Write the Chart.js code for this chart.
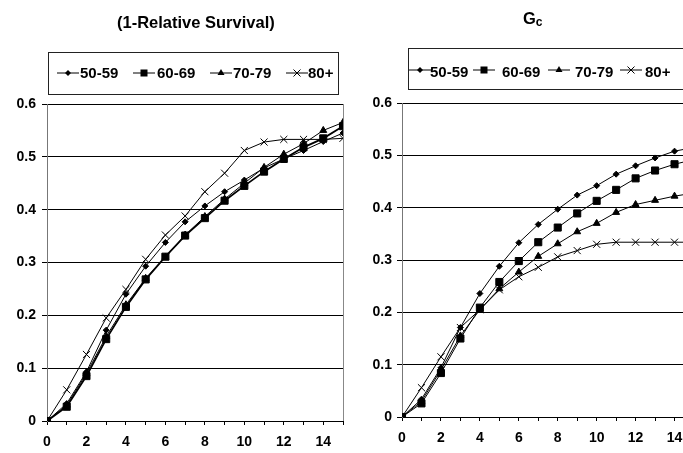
<!DOCTYPE html>
<html>
<head>
<meta charset="utf-8">
<script src="https://cdn.jsdelivr.net/npm/chart.js@4.4.0/dist/chart.umd.min.js"></script>
<style>
html,body{margin:0;padding:0;width:683px;height:453px;overflow:hidden;background:#fff;}
body{position:relative;font-family:"Liberation Sans",Arial,sans-serif;font-weight:bold;color:#000;}
canvas{position:absolute;top:0;}
.title{position:absolute;font-size:16.5px;line-height:16.5px;white-space:nowrap;}
.title sub{font-size:12px;vertical-align:-2px;line-height:0;}
.legend{position:absolute;border:1px solid #222;box-sizing:border-box;}
.lg{position:absolute;font-size:15px;line-height:15px;white-space:nowrap;}
svg.mk{position:absolute;}
</style>
</head>
<body>
<canvas id="c1" width="360" height="453" style="left:0;width:360px;height:453px"></canvas>
<canvas id="c2" width="380" height="453" style="left:345px;width:380px;height:453px"></canvas>

<div class="title" style="left:117px;top:14.3px">(1-Relative Survival)</div>
<div class="title" style="left:523px;top:10px">G<sub>c</sub></div>

<div class="legend" style="left:48px;top:52px;width:291px;height:43px"></div>
<div class="legend" style="left:408px;top:48px;width:300px;height:42px"></div>
<div id="legends"></div>

<script>
// ---- data ----
const years = [0,1,2,3,4,5,6,7,8,9,10,11,12,13,14,15];
const seriesNames = ['50-59','60-69','70-79','80+'];
const yTickLabels = ['0','0.1','0.2','0.3','0.4','0.5','0.6'];
const xTickLabels = ['0','','2','','4','','6','','8','','10','','12','','14',''];

// (1-Relative Survival)
const rs5059 = [0,0.033,0.093,0.172,0.240,0.293,0.338,0.377,0.407,0.434,0.456,0.479,0.496,0.512,0.529,0.545];
const rs6069 = [0,0.027,0.085,0.155,0.216,0.268,0.311,0.351,0.384,0.417,0.445,0.472,0.496,0.518,0.535,0.558];
const rs7079 = [0,0.030,0.090,0.160,0.220,0.270,0.310,0.352,0.387,0.420,0.450,0.480,0.505,0.525,0.550,0.565];
const rs80   = [0,0.059,0.126,0.195,0.249,0.306,0.352,0.388,0.434,0.469,0.512,0.528,0.533,0.533,0.533,0.535];

// Gc
const gc5059 = [0,0.034,0.094,0.171,0.236,0.288,0.333,0.368,0.397,0.424,0.442,0.464,0.480,0.495,0.508,0.515];
const gc6069 = [0,0.026,0.084,0.150,0.209,0.258,0.298,0.334,0.362,0.389,0.413,0.434,0.456,0.471,0.483,0.492];
const gc7079 = [0,0.030,0.090,0.155,0.205,0.245,0.277,0.307,0.331,0.354,0.370,0.391,0.406,0.414,0.422,0.428];
const gc80   = [0,0.056,0.115,0.171,0.205,0.243,0.268,0.286,0.306,0.318,0.330,0.334,0.334,0.334,0.334,0.334];

// ---- styles ----
const markers = [
  {style:'rectRot', r:3},
  {style:'rect', r:5},
  {style:'triangle', r:4},
  {style:'crossRot', r:5}
];
const tickFont = {family:'"Liberation Sans", Arial, sans-serif', size:14, weight:'bold'};

function mkDatasets(arrs, widths){
  return arrs.map((a,i)=>({
    label: seriesNames[i],
    data: years.map((x,j)=>({x:x,y:a[j]})),
    borderColor:'#000',
    borderWidth: widths[i],
    pointStyle: markers[i].style,
    pointRadius: markers[i].r,
    pointHoverRadius: markers[i].r,
    pointBackgroundColor:'#000',
    pointBorderColor:'#000',
    pointBorderWidth:1,
    tension:0,
    fill:false
  }));
}

function makeChart(id, datasets, pad, yW, xH, yPad, xPad){
  return new Chart(document.getElementById(id), {
    type:'line',
    data:{datasets},
    options:{
      responsive:false,
      animation:false,
      devicePixelRatio:1,
      layout:{padding:pad},
      plugins:{legend:{display:false}, tooltip:{enabled:false}, title:{display:false}},
      scales:{
        x:{
          type:'linear', min:0, max:15,
          afterFit:(s)=>{s.height=xH;},
          border:{color:'#000', width:1},
          grid:{
            drawOnChartArea:true,
            color:(c)=> (c.tick && c.tick.value===15) ? '#888' : 'rgba(0,0,0,0)',
            tickColor:'#000', tickLength:4, lineWidth:1
          },
          ticks:{
            stepSize:1, autoSkip:false, maxRotation:0, minRotation:0,
            padding:xPad, color:'#000', font:tickFont,
            callback:(v)=> xTickLabels[v] !== undefined ? xTickLabels[v] : ''
          }
        },
        y:{
          min:0, max:0.6,
          afterFit:(s)=>{s.width=yW;},
          border:{color:'#777', width:1},
          grid:{color:'#000', tickColor:'#000', tickLength:5, lineWidth:1},
          ticks:{
            stepSize:0.1, padding:yPad, color:'#000', font:tickFont,
            callback:(v,i)=> yTickLabels[i]
          }
        }
      }
    }
  });
}

makeChart('c1', mkDatasets([rs5059,rs6069,rs7079,rs80],[1,1.8,1,1]),
  {left:0, top:104, right:17, bottom:0}, 47, 32, 6, 9);
makeChart('c2', mkDatasets([gc5059,gc6069,gc7079,gc80],[1,1,1,1]),
  {left:0, top:103, right:31, bottom:0}, 57, 36, 5, 9);

// ---- HTML legends ----
function markerSvg(i){
  const c = 11, cy = 6;
  let m = '';
  if(i===0) m = `<polygon points="${c},${cy-3} ${c+3},${cy} ${c},${cy+3} ${c-3},${cy}" fill="#000"/>`;
  if(i===1) m = `<rect x="${c-3.5}" y="${cy-3.5}" width="7" height="7" fill="#000"/>`;
  if(i===2) m = `<polygon points="${c},${cy-4} ${c+3.5},${cy+2} ${c-3.5},${cy+2}" fill="#000"/>`;
  if(i===3) m = `<path d="M${c-3.5},${cy-3.5}L${c+3.5},${cy+3.5}M${c+3.5},${cy-3.5}L${c-3.5},${cy+3.5}" stroke="#000" stroke-width="1"/>`;
  return `<line x1="0" y1="${cy}" x2="22" y2="${cy}" stroke="#000" stroke-width="1"/>` + m;
}
const legendSpecs = [
  {lines:[57,133,210,286], texts:[80,157,233,308], lineY:67, textTop:65},
  {lines:[409,473,548,620], texts:[430,502,575,645], lineY:64, textTop:64}
];
let html = '';
legendSpecs.forEach(sp=>{
  seriesNames.forEach((n,i)=>{
    html += `<svg class="mk" width="22" height="12" style="left:${sp.lines[i]}px;top:${sp.lineY}px">${markerSvg(i)}</svg>`;
    html += `<div class="lg" style="left:${sp.texts[i]}px;top:${sp.textTop}px">${n}</div>`;
  });
});
document.getElementById('legends').innerHTML = html;
</script>
</body>
</html>
